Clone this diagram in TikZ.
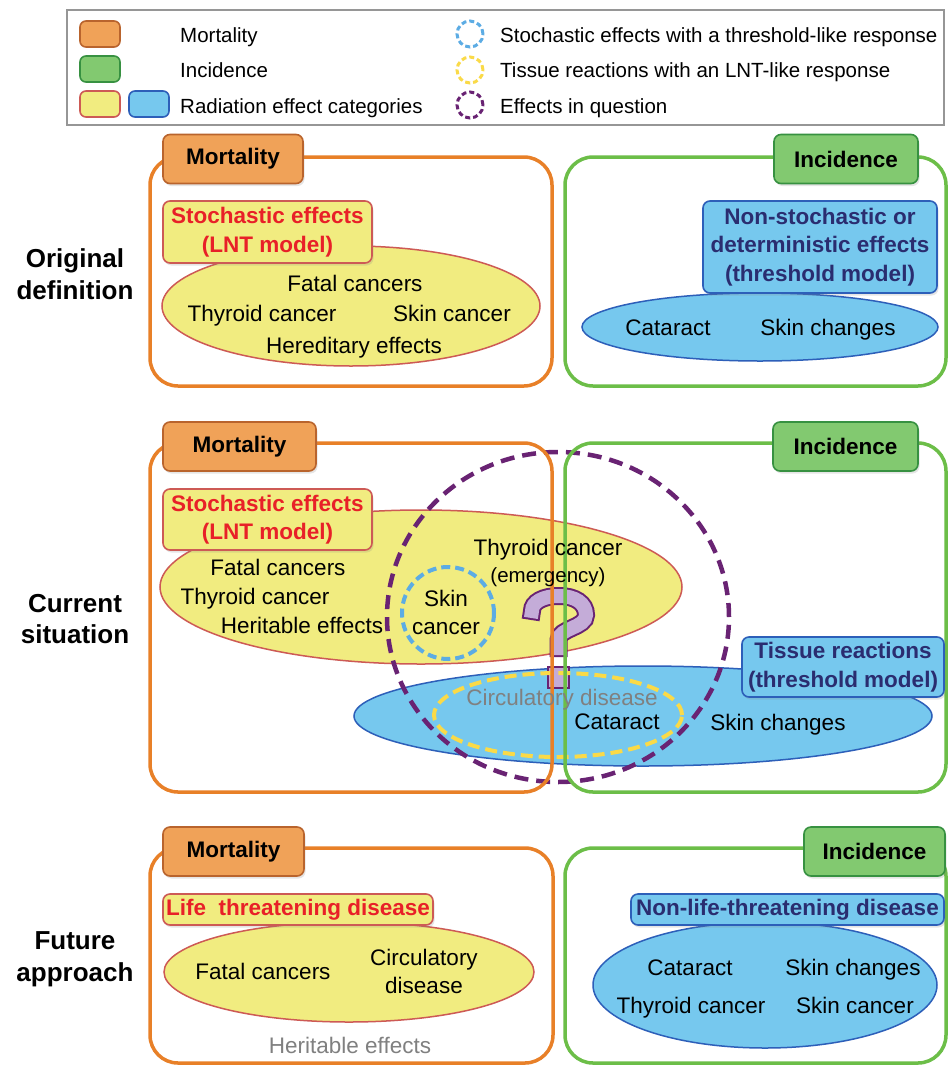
\documentclass[tikz,border=0pt]{standalone}
\usepackage{fontspec}
\setmainfont{Liberation Sans}
\usetikzlibrary{shapes.geometric,shadows}
\definecolor{orF}{RGB}{232,128,40}
\definecolor{orL}{RGB}{240,162,88}
\definecolor{orD}{RGB}{185,100,45}
\definecolor{grF}{RGB}{108,190,72}
\definecolor{grL}{RGB}{130,201,112}
\definecolor{grD}{RGB}{55,145,65}
\definecolor{yeL}{RGB}{241,236,128}
\definecolor{yeD}{RGB}{205,90,85}
\definecolor{blL}{RGB}{118,200,238}
\definecolor{blD}{RGB}{45,95,185}
\definecolor{redT}{RGB}{232,32,40}
\definecolor{navT}{RGB}{42,45,112}
\definecolor{puD}{RGB}{105,35,115}
\definecolor{puL}{RGB}{196,172,216}
\definecolor{grayT}{RGB}{128,128,128}
\definecolor{yeDash}{RGB}{250,218,72}
\definecolor{blDash}{RGB}{92,172,228}
\definecolor{lgBorder}{RGB}{150,150,150}
\newcommand{\bodyf}{\fontsize{22.5}{27}\selectfont}
\newcommand{\smallf}{\fontsize{20.5}{24}\selectfont}
\newcommand{\legf}{\fontsize{20.5}{24}\selectfont}
\newcommand{\tagf}{\fontsize{22.5}{27}\selectfont\bfseries}
\newcommand{\catf}{\fontsize{22.5}{28.5}\selectfont\bfseries}
\newcommand{\rowf}{\fontsize{26}{31.5}\selectfont\bfseries}
\tikzset{
  frameM/.style={draw=orF, line width=3.5pt, rounded corners=28pt},
  frameI/.style={draw=grF, line width=3.5pt, rounded corners=28pt},
  shad/.style={drop shadow={opacity=0.2, shadow xshift=1.5pt, shadow yshift=-2.5pt}},
  tagM/.style={shad, draw=orD, fill=orL, line width=1.6pt, rounded corners=7pt, minimum height=49pt, inner sep=0pt, font=\tagf},
  tagI/.style={shad, draw=grD, fill=grL, line width=1.6pt, rounded corners=7pt, minimum height=49pt, inner sep=0pt, font=\tagf},
  catY/.style={shad, draw=yeD, fill=yeL, line width=1.6pt, rounded corners=7pt, inner sep=0pt, align=center, font=\catf, text=redT},
  catB/.style={shad, draw=blD, fill=blL, line width=1.6pt, rounded corners=7pt, inner sep=0pt, align=center, font=\catf, text=navT},
  ellY/.style={ellipse, draw=yeD, fill=yeL, line width=1.5pt, inner sep=0pt},
  ellB/.style={ellipse, draw=blD, fill=blL, line width=1.5pt, inner sep=0pt},
  txt/.style={inner sep=0pt, text height=16pt, text depth=0pt, font=\bodyf},
  legtxt/.style={inner sep=0pt, anchor=west, text height=14.7pt, text depth=0pt, font=\legf},
  rowlab/.style={inner sep=0pt, align=center, font=\rowf},
  legsq/.style={rounded corners=6pt, line width=1.6pt, minimum width=40pt, minimum height=26pt, inner sep=0pt},
  legcirc/.style={circle, minimum size=26pt, inner sep=0pt, line width=3pt, dash pattern=on 5pt off 3pt},
  dashB/.style={circle, draw=blDash, line width=4pt, dash pattern=on 9pt off 5pt, inner sep=0pt},
  dashY/.style={ellipse, draw=yeDash, line width=4pt, dash pattern=on 12pt off 6pt, inner sep=0pt},
  dashP/.style={ellipse, draw=puD, line width=4.5pt, dash pattern=on 14pt off 8pt, inner sep=0pt},
  qhookout/.style={draw=puD, line width=18pt, line cap=rect},
  qhookin/.style={draw=puL, line width=14pt, line cap=rect},
  qdot/.style={fill=puL, draw=puD, line width=2pt}
}
\begin{document}
\begin{tikzpicture}[x=1pt,y=-1pt]
\useasboundingbox (0,0) rectangle (949,1066);
\fill[white] (0,0) rectangle (949,1066);

% ---------------- legend ----------------
\draw[lgBorder, line width=1.5pt, fill=white] (67,10) rectangle (944,125);
\node[legsq, draw=orD, fill=orL] (lsqM) at (100,34) {};
\node[legsq, draw=grD, fill=grL] (lsqI) at (100,69) {};
\node[legsq, draw=yeD, fill=yeL] (lsqY) at (100,104) {};
\node[legsq, draw=blD, fill=blL] (lsqB) at (149,104) {};
\node[legtxt] (ltM) at (180,35) {Mortality};
\node[legtxt] (ltI) at (180,70) {Incidence};
\node[legtxt] (ltR) at (180,106) {Radiation effect categories};
\node[legcirc, draw=blDash] (lcB) at (470,34) {};
\node[legcirc, draw=yeDash] (lcY) at (470,70) {};
\node[legcirc, draw=puD] (lcP) at (470,105) {};
\node[legtxt] (ltB) at (500,35) {Stochastic effects with a threshold-like response};
\node[legtxt] (ltY) at (500,70) {Tissue reactions with an LNT-like response};
\node[legtxt] (ltP) at (500,106) {Effects in question};

% ---------------- row labels ----------------
\node[rowlab] (row1) at (75,274) {Original\\definition};
\node[rowlab] (row2) at (75,619) {Current\\situation};
\node[rowlab] (row3) at (75,959) {Future\\approach};

% ---------------- panel 1: original definition ----------------
\node[ellY, minimum width=378pt, minimum height=120pt] (e1y) at (351,306) {};
\node[ellB, minimum width=356pt, minimum height=68pt] (e1b) at (760,327) {};
\draw[frameM] (150,157) rectangle (552,386);
\draw[frameI] (565,157) rectangle (946,386);
\node[tagM, minimum width=140pt] (t1m) at (233,159) {Mortality};
\node[tagI, minimum width=144pt] (t1i) at (846,159) {Incidence};
\node[catY, minimum width=209pt, minimum height=62pt] (c1y) at (267.5,232) {Stochastic effects\\(LNT model)};
\node[catB, minimum width=234pt, minimum height=92pt] (c1b) at (820,247) {Non-stochastic or\\deterministic effects\\(threshold model)};
\node[txt] (p1a) at (355,283) {Fatal cancers};
\node[txt] (p1b) at (262,313) {Thyroid cancer};
\node[txt] (p1c) at (452,313) {Skin cancer};
\node[txt] (p1d) at (354,345) {Hereditary effects};
\node[txt] (p1e) at (668,327) {Cataract};
\node[txt] (p1f) at (828,327) {Skin changes};

% ---------------- panel 2: current situation ----------------
\node[ellY, minimum width=522pt, minimum height=154pt] (e2y) at (421,587) {};
\node[ellB, minimum width=578pt, minimum height=100pt] (e2b) at (643,716) {};
% question mark drawn as an outlined shape
\draw[qhookout] (532,611) .. controls (532,602) and (543,596) .. (559,596)
  .. controls (575,596) and (586,603) .. (586,615)
  .. controls (586,628) and (558.5,628) .. (558.5,640) -- (558.5,648);
\draw[qhookin] (532,611) .. controls (532,602) and (543,596) .. (559,596)
  .. controls (575,596) and (586,603) .. (586,615)
  .. controls (586,628) and (558.5,628) .. (558.5,640) -- (558.5,648);
\draw[qdot] (548,667) rectangle (569,688);
\node[dashY, minimum width=248pt, minimum height=84pt] (d2y) at (558,715) {};
\node[dashB, minimum size=92pt] (d2b) at (448,613) {};
\node[dashP, minimum width=342pt, minimum height=330pt] (d2p) at (558,617) {};
\draw[frameM] (150,443) rectangle (552,792);
\draw[frameI] (565,443) rectangle (946,792);
\node[tagM, minimum width=153pt] (t2m) at (239.5,446.5) {Mortality};
\node[tagI, minimum width=145pt] (t2i) at (845.5,446.5) {Incidence};
\node[catY, minimum width=209pt, minimum height=61pt] (c2y) at (267.5,519.5) {Stochastic effects\\(LNT model)};
\node[catB, minimum width=202pt, minimum height=60pt] (c2b) at (843,667) {Tissue reactions\\(threshold model)};
\node[txt] (p2a) at (278,567) {Fatal cancers};
\node[txt] (p2b) at (255,596) {Thyroid cancer};
\node[txt] (p2c) at (302,625) {Heritable effects};
\node[txt] (p2d) at (446,598) {Skin};
\node[txt] (p2e) at (446,626) {cancer};
\node[txt] (p2f) at (548,547) {Thyroid cancer};
\node[txt, font=\smallf, text height=14.7pt] (p2g) at (548,575) {(emergency)};
\node[txt, text=grayT] (p2h) at (562,697) {Circulatory disease};
\node[txt] (p2i) at (617,721) {Cataract};
\node[txt] (p2j) at (778,722) {Skin changes};

% ---------------- panel 3: future approach ----------------
\node[ellY, minimum width=370pt, minimum height=100pt] (e3y) at (349,972) {};
\node[ellB, minimum width=344pt, minimum height=126pt] (e3b) at (765,985) {};
\draw[frameM] (150,848) rectangle (553,1063);
\draw[frameI] (565,848) rectangle (946,1063);
\node[tagM, minimum width=141pt] (t3m) at (233.5,851.5) {Mortality};
\node[tagI, minimum width=141pt] (t3i) at (874.5,851.5) {Incidence};
\node[catY, minimum width=270pt, minimum height=31pt] (c3y) at (298,909.5) {Life\ \ threatening disease};
\node[catB, minimum width=313pt, minimum height=31pt] (c3b) at (787.5,909.5) {Non-life-threatening disease};
\node[txt] (p3a) at (263,971) {Fatal cancers};
\node[txt] (p3b) at (424,957) {Circulatory};
\node[txt] (p3c) at (424,985) {disease};
\node[txt, text=grayT] (p3d) at (350,1045) {Heritable effects};
\node[txt] (p3e) at (690,967) {Cataract};
\node[txt] (p3f) at (853,967) {Skin changes};
\node[txt] (p3g) at (691,1005) {Thyroid cancer};
\node[txt] (p3h) at (855,1005) {Skin cancer};
\end{tikzpicture}
\end{document}
